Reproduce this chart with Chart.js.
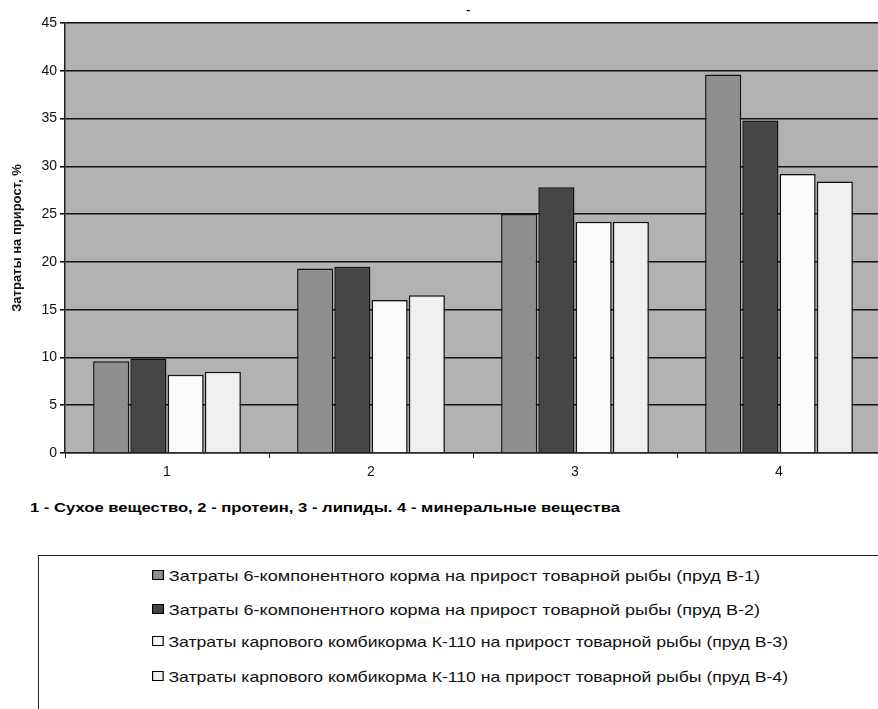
<!DOCTYPE html>
<html>
<head>
<meta charset="utf-8">
<script src="https://cdn.jsdelivr.net/npm/chart.js@4/dist/chart.umd.min.js"></script>
<style>
  html, body { margin: 0; padding: 0; background: #fff; overflow: hidden; width: 878px; height: 709px; }
  #wrap { position: absolute; left: 0; top: 0; width: 890px; height: 490px; }
  #dash { position: absolute; left: 466px; top: 2px; font: 14px "Liberation Sans", Arial, sans-serif; }
  #caption { position: absolute; left: 30px; top: 500px; font: bold 13px "Liberation Sans", Arial, sans-serif; white-space: nowrap; transform-origin: 0 0; }
  #legend { position: absolute; left: 38px; top: 555px; width: 900px; height: 200px; border: 1px solid #222; box-sizing: border-box; }
  .item { position: absolute; left: 113px; font: 15px "Liberation Sans", Arial, sans-serif; white-space: nowrap; color: #111; transform-origin: 0 50%; }
  .item i { display: inline-block; width: 8px; height: 8px; border: 1px solid #000; margin-right: 4px; vertical-align: 1px; }
</style>
</head>
<body>
<div id="wrap"><canvas id="chart"></canvas></div>
<div id="dash">-</div>
<div id="caption">1 - Сухое вещество, 2 - протеин, 3 - липиды. 4 - минеральные вещества</div>
<div id="legend"></div>
<script>
// === DATA ===
const categories = ['1', '2', '3', '4'];
const seriesNames = [
    'Затраты 6-компонентного корма на прирост товарной рыбы (пруд В-1)',
    'Затраты 6-компонентного корма на прирост товарной рыбы (пруд В-2)',
    'Затраты карпового комбикорма К-110 на прирост товарной рыбы (пруд В-3)',
    'Затраты карпового комбикорма К-110 на прирост товарной рыбы (пруд В-4)'
];
const pondB1 = [9.6, 19.3, 25.0, 39.6];
const pondB2 = [9.9, 19.5, 27.8, 34.8];
const pondB3 = [8.2, 16.0, 24.2, 29.2];
const pondB4 = [8.5, 16.5, 24.2, 28.4];
const yTicks = [0, 5, 10, 15, 20, 25, 30, 35, 40, 45];
const colors = ['#8f8f8f', '#464646', '#fbfbfb', '#f0f0f0'];

// plot area background
const plotBg = {
    id: 'plotBg',
    beforeDraw(chart) {
        const { ctx, chartArea: a } = chart;
        ctx.save();
        ctx.fillStyle = '#b2b2b2';
        ctx.fillRect(a.left, a.top, a.right - a.left, a.bottom - a.top);
        ctx.restore();
    }
};

const font = { family: '"Liberation Sans", Arial, sans-serif' };

new Chart(document.getElementById('chart'), {
    type: 'bar',
    data: {
        labels: categories,
        datasets: [pondB1, pondB2, pondB3, pondB4].map((vals, i) => ({
            label: seriesNames[i],
            data: vals,
            backgroundColor: colors[i],
            borderColor: '#111',
            borderWidth: 1.5,
            categoryPercentage: 0.73,
            barPercentage: 0.97
        }))
    },
    options: {
        responsive: true,
        maintainAspectRatio: false,
        animation: false,
        layout: { padding: { top: 23, right: 9, left: 10, bottom: 0 } },
        plugins: { legend: { display: false }, tooltip: { enabled: false }, title: { display: false } },
        scales: {
            x: {
                afterFit: s => { s.height = 37; },
                grid: { offset: true, drawOnChartArea: false, color: '#222', tickLength: 5 },
                border: { color: '#222', width: 1.5 },
                ticks: { color: '#111', font: { ...font, size: 14 }, padding: 6 }
            },
            y: {
                min: 0,
                max: 45,
                afterFit: s => { s.width = 55; },
                afterBuildTicks: s => { s.ticks = yTicks.map(v => ({ value: v })); },
                grid: { color: '#111', lineWidth: 1.6, tickLength: 5 },
                border: { color: '#222', width: 1.5 },
                ticks: { color: '#111', font: { ...font, size: 14 }, padding: 3 },
                title: {
                    display: true,
                    text: 'Затраты на прирост, %',
                    color: '#111',
                    font: { ...font, size: 13, weight: 'bold' },
                    padding: { top: 0, bottom: 0 }
                }
            }
        }
    },
    plugins: [plotBg]
});

// legend box built from the series
const legend = document.getElementById('legend');
const rowY = [20, 54, 86, 121];
seriesNames.forEach((name, i) => {
    const el = document.createElement('div');
    el.className = 'item';
    el.style.top = (rowY[i] - 9) + 'px';
    el.innerHTML = `<i style="background:${colors[i]}"></i>${name}`;
    legend.appendChild(el);
});

// stretch texts to the reference widths
function fitWidth(el, target) {
    const w = el.getBoundingClientRect().width;
    el.style.transform = `scaleX(${target / w})`;
}
fitWidth(document.getElementById('caption'), 590);
document.querySelectorAll('.item').forEach((el, i) => {
    fitWidth(el, i < 2 ? 608 : 636);
});
</script>
</body>
</html>
